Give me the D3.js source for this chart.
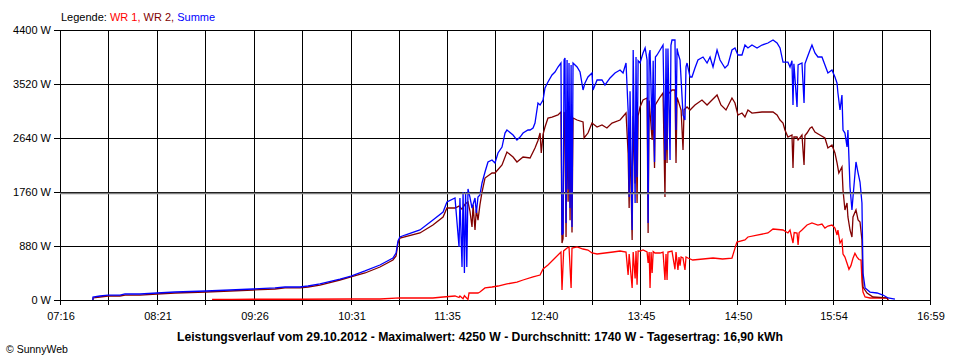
<!DOCTYPE html>
<html><head><meta charset="utf-8">
<script src="https://cdn.jsdelivr.net/npm/d3@7"></script>
<style>
body{margin:0;background:#fff;}
svg{display:block;font-family:Arial,"Liberation Sans",sans-serif;}
</style>
</head><body>
<svg id="c" width="960" height="360"></svg>
<script>
// ---- data (time = minutes after midnight, value = W) ----
const tickLabels = ["07:16","08:21","09:26","10:31","11:35","12:40","13:45","14:50","15:54","16:59"];
const yTicks = [0, 880, 1760, 2640, 3520, 4400];
const averageW = 1740;
const titleText = "Leistungsverlauf vom 29.10.2012 - Maximalwert: 4250 W - Durchschnitt: 1740 W - Tagesertrag: 16,90 kWh";
const seriesNames = ["WR 1", "WR 2", "Summe"];

const summe = [[458.0,0],[458.1,49],[462.8,65],[468.2,81],[476.2,81],[479.6,98],[489.6,98],[501.0,114],[513.1,130],[533.8,147],[549.9,163],[565.3,179],[580.1,196],[586.8,212],[596.8,212],[602.2,228],[610.2,261],[623.6,342],[631.0,391],[640.4,473],[650.4,570],[659.1,684],[661.2,766],[662.5,961],[663.8,1027],[667.2,1059],[677.2,1141],[685.9,1304],[692.7,1434],[695.3,1597],[700.7,1662],[703.4,864],[704.0,1662],[705.4,538],[706.1,1760],[707.0,440],[707.8,1760],[708.6,538],[709.4,1809],[710.7,1678],[712.1,1499],[714.1,1662],[715.0,1418],[716.1,1678],[717.4,1711],[718.8,1907],[720.8,2086],[722.8,2249],[725.5,2281],[727.5,2233],[729.5,2396],[732.2,2493],[734.2,2721],[735.5,2770],[739.6,2689],[742.2,2607],[744.3,2656],[746.3,2721],[749.6,2770],[751.0,2770],[753.0,2803],[754.3,2884],[756.3,3210],[757.7,3178],[759.7,3259],[761.0,3455],[763.0,3553],[765.7,3667],[767.7,3715],[769.7,3797],[771.7,3862],[772.4,1059],[773.1,1092],[773.8,3911],[774.4,3944],[775.1,1255],[775.8,3911],[776.5,1800],[777.1,3862],[777.8,1500],[778.5,3830],[779.1,1190],[779.8,3862],[782.5,3797],[784.5,3715],[786.5,3422],[787.8,3536],[789.8,3634],[792.5,3699],[793.2,3422],[795.9,3585],[799.2,3585],[801.2,3504],[804.6,3618],[807.9,3699],[811.3,3748],[813.3,3699],[815.3,3862],[816.7,3096],[817.4,1678],[818.0,3400],[819.4,1141],[820.1,4074],[821.4,1581],[822.0,3960],[822.7,2000],[823.4,3900],[824.7,3862],[826.7,4025],[828.1,4107],[829.4,3911],[830.1,1255],[830.8,4000],[831.4,4074],[832.8,2770],[833.5,3900],[834.4,2249],[835.0,3960],[836.1,3993],[838.1,4074],[840.1,4155],[841.4,2281],[842.1,4100],[842.8,2444],[843.4,4100],[844.8,2281],[845.4,4150],[846.1,4237],[848.1,4237],[848.8,2770],[849.5,4100],[850.1,4025],[851.5,3911],[853.5,3015],[854.8,2933],[855.5,3800],[856.2,3862],[858.2,3634],[859.5,3634],[861.5,3781],[863.5,3911],[866.9,3960],[869.6,3862],[871.6,3960],[873.6,3797],[876.3,4074],[878.3,3911],[881.6,3781],[883.6,3830],[886.3,4074],[888.3,4107],[890.3,3993],[893.0,3993],[895.0,4155],[897.0,4107],[899.7,4155],[903.1,4107],[906.4,4155],[910.4,4188],[913.8,4237],[916.5,4188],[918.5,4107],[920.5,3878],[923.8,3878],[925.2,3797],[926.5,3900],[927.2,3178],[927.8,3850],[929.9,3145],[930.6,3830],[933.2,3862],[934.6,3210],[935.2,3850],[936.6,3944],[938.6,4074],[939.9,4155],[941.9,4025],[943.9,3960],[946.6,3960],[948.6,3830],[950.6,3699],[953.3,3748],[955.3,3634],[956.7,3536],[957.3,3373],[958.7,3096],[960.0,3341],[960.7,2770],[962.0,2721],[963.4,2493],[964.0,2770],[965.4,1841],[966.7,1467],[967.4,1678],[969.4,2249],[970.8,2070],[972.1,1923],[973.4,1581],[974.1,440],[975.5,196],[978.8,130],[983.5,114],[987.5,81],[990.9,33],[995.5,16]];

const wr2 = [[458.1,0],[458.2,33],[462.8,49],[468.2,65],[476.2,65],[479.6,81],[489.6,81],[501.0,98],[513.1,114],[533.8,130],[549.9,147],[565.3,163],[580.1,179],[586.8,196],[596.8,196],[602.2,212],[610.2,244],[623.6,326],[631.0,375],[640.4,440],[650.4,538],[659.1,652],[661.2,717],[662.5,929],[663.8,1010],[677.2,1092],[685.9,1222],[692.7,1353],[695.3,1499],[700.7,1499],[703.4,1530],[705.4,1480],[707.4,1560],[709.4,1600],[710.7,1450],[712.1,1190],[712.8,1550],[714.1,1141],[715.0,1480],[716.1,1300],[717.4,1550],[718.8,1760],[720.8,1988],[725.5,2070],[727.5,2070],[732.2,2200],[735.5,2412],[739.6,2330],[742.2,2249],[746.3,2330],[751.0,2314],[754.3,2477],[756.3,2600],[757.7,2721],[758.5,2396],[759.7,2700],[761.0,2819],[763.0,2966],[765.7,2982],[769.7,3015],[771.7,3064],[772.4,929],[773.1,1000],[773.8,3064],[774.4,3000],[775.1,1027],[775.8,3100],[776.5,1600],[777.1,3000],[777.8,1300],[778.5,3000],[779.1,1100],[779.8,2966],[782.5,2933],[786.5,2901],[787.2,2640],[789.8,2721],[792.5,2884],[795.9,2819],[799.2,2852],[802.5,2803],[805.9,2884],[811.3,2933],[815.3,3047],[816.7,2396],[817.4,1500],[818.0,2700],[819.4,978],[820.1,3000],[821.4,1900],[822.0,2900],[822.7,1581],[823.4,3000],[824.7,3145],[826.7,3259],[829.4,3292],[830.1,1092],[830.8,3250],[832.8,2607],[833.5,3100],[834.4,2151],[834.9,3178],[838.1,3308],[840.1,3373],[841.4,1678],[842.1,3300],[842.8,2233],[843.4,3350],[846.1,3422],[848.1,3422],[848.8,2233],[849.5,3300],[850.1,3259],[852.2,3096],[853.5,2444],[854.2,3100],[856.2,3145],[858.2,3096],[861.5,3178],[866.2,3259],[869.6,3178],[871.6,3227],[876.3,3341],[878.9,3178],[882.3,3096],[886.3,3292],[888.3,3210],[890.3,3015],[893.0,3047],[895.0,2982],[897.0,3096],[899.7,3047],[906.4,3064],[913.8,3064],[916.5,3015],[918.5,2933],[920.5,2884],[921.8,2770],[923.8,2656],[926.5,2689],[927.2,2151],[927.8,2656],[929.9,2656],[930.6,2607],[933.2,2689],[934.6,2200],[935.2,2680],[936.6,2721],[938.6,2800],[939.9,2819],[941.9,2738],[945.2,2689],[948.6,2640],[950.6,2477],[953.3,2526],[955.3,2396],[956.7,2233],[957.9,2070],[960.0,2167],[960.7,1793],[962.0,1467],[963.4,1581],[964.0,1353],[965.4,1141],[966.7,1027],[967.4,1353],[969.4,1467],[970.8,1304],[972.1,1271],[973.4,978],[974.1,212],[976.8,114],[980.8,49],[990.2,33],[990.9,0]];

const wr1 = [[537.9,10],[551.0,10],[565.3,12],[596.8,12],[631.0,16],[650.4,16],[663.8,33],[685.9,33],[692.7,49],[700.7,65],[703.4,40],[704.0,65],[706.1,20],[707.0,70],[709.4,10],[710.1,114],[716.1,114],[717.4,130],[720.8,196],[725.5,212],[729.5,228],[735.5,261],[742.2,293],[746.3,326],[753.0,375],[757.7,407],[759.7,505],[763.0,570],[767.7,684],[771.7,782],[772.4,163],[773.5,800],[775.8,847],[777.1,864],[778.5,196],[779.1,847],[782.5,864],[786.5,831],[789.8,815],[792.5,766],[795.9,750],[801.2,766],[806.6,782],[811.3,798],[815.3,782],[816.7,407],[817.4,750],[819.4,196],[820.1,780],[821.4,350],[822.0,800],[822.7,250],[823.4,800],[824.7,798],[826.7,815],[829.4,782],[830.1,603],[830.8,780],[831.4,196],[832.1,780],[832.8,440],[833.5,790],[834.7,766],[838.1,766],[840.1,782],[841.4,326],[842.1,750],[842.8,326],[843.4,782],[846.1,798],[848.1,500],[848.8,782],[850.1,489],[850.8,700],[851.5,560],[852.2,700],[853.5,684],[854.8,489],[855.5,700],[856.8,684],[860.0,652],[866.9,668],[873.6,684],[880.0,668],[886.3,684],[889.6,945],[895.0,978],[897.0,1027],[903.1,1059],[910.4,1092],[913.8,1157],[920.5,1141],[923.8,1092],[925.2,1141],[927.2,929],[928.0,1100],[929.9,1092],[930.6,896],[931.3,1100],[933.2,1141],[936.6,1222],[939.9,1255],[943.9,1222],[946.6,1238],[948.6,1173],[950.6,1206],[953.3,1222],[955.3,1173],[956.7,1060],[957.3,1140],[958.7,929],[960.0,980],[960.7,750],[962.0,700],[963.4,600],[964.7,500],[966.0,560],[967.4,680],[968.7,760],[970.1,700],[971.4,660],[972.8,650],[973.4,300],[974.1,130],[975.5,49],[978.8,33],[990.2,33],[990.9,0]];

const seriesColors = ["#ff0000", "#800000", "#0000ff"];

// ---- drawing ----
const svg = d3.select("#c");
const toMin = s => { const [h, m] = s.split(":").map(Number); return h * 60 + m; };
const tickMins = tickLabels.map(toMin);
const x = d3.scaleLinear().domain([tickMins[0], tickMins[tickMins.length - 1]]).range([60, 930]);
const y = d3.scaleLinear().domain([0, 4400]).range([300, 30]);

// grid positions: each labelled time and the midpoints between them
const gridMins = [];
tickMins.forEach((t, i) => { gridMins.push(t); if (i < tickMins.length - 1) gridMins.push((t + tickMins[i + 1]) / 2); });

const px = v => Math.round(v) + 0.5;

// vertical grid lines (with tick below axis)
svg.append("g").selectAll("line").data(gridMins).join("line")
  .attr("x1", d => px(x(d))).attr("x2", d => px(x(d)))
  .attr("y1", 30).attr("y2", 305)
  .attr("stroke", "#000").attr("stroke-width", 1);

// horizontal grid lines (with tick left of axis)
svg.append("g").selectAll("line").data(yTicks).join("line")
  .attr("x1", 54).attr("x2", 930)
  .attr("y1", d => px(y(d))).attr("y2", d => px(y(d)))
  .attr("stroke", "#000").attr("stroke-width", 1);

// series lines
const line = d3.line().x(d => x(d[0])).y(d => y(d[1]));
[wr1, wr2, summe].forEach((s, i) => {
  svg.append("path").datum(s).attr("d", line)
    .attr("fill", "none").attr("stroke", seriesColors[i])
    .attr("stroke-width", 1.3).attr("stroke-linejoin", "miter");
});

// average line
svg.append("line")
  .attr("x1", 60).attr("x2", 930)
  .attr("y1", px(y(averageW))).attr("y2", px(y(averageW)))
  .attr("stroke", "#808080").attr("stroke-width", 1.5);

// y labels
svg.append("g").selectAll("text").data(yTicks).join("text")
  .attr("x", 51).attr("y", d => y(d) + 4)
  .attr("text-anchor", "end").attr("font-size", 11).attr("fill", "#000")
  .text(d => d + " W");

// x labels
svg.append("g").selectAll("text").data(tickLabels).join("text")
  .attr("x", d => x(toMin(d)) + 1).attr("y", 320)
  .attr("text-anchor", "middle").attr("font-size", 11).attr("fill", "#000")
  .text(d => d);

// legend
const leg = svg.append("text").attr("x", 61).attr("y", 21).attr("font-size", 11);
leg.append("tspan").attr("fill", "#000").text("Legende: ");
seriesNames.forEach((n, i) => {
  leg.append("tspan").attr("fill", seriesColors[i]).text(n + (i < seriesNames.length - 1 ? ", " : ""));
});

// title
svg.append("text").attr("x", 480).attr("y", 341)
  .attr("text-anchor", "middle").attr("font-size", 12.2).attr("font-weight", "bold")
  .attr("fill", "#000").text(titleText);

// copyright
svg.append("text").attr("x", 6).attr("y", 353).attr("font-size", 10.5).attr("fill", "#000")
  .text("© SunnyWeb");
</script>
</body></html>
